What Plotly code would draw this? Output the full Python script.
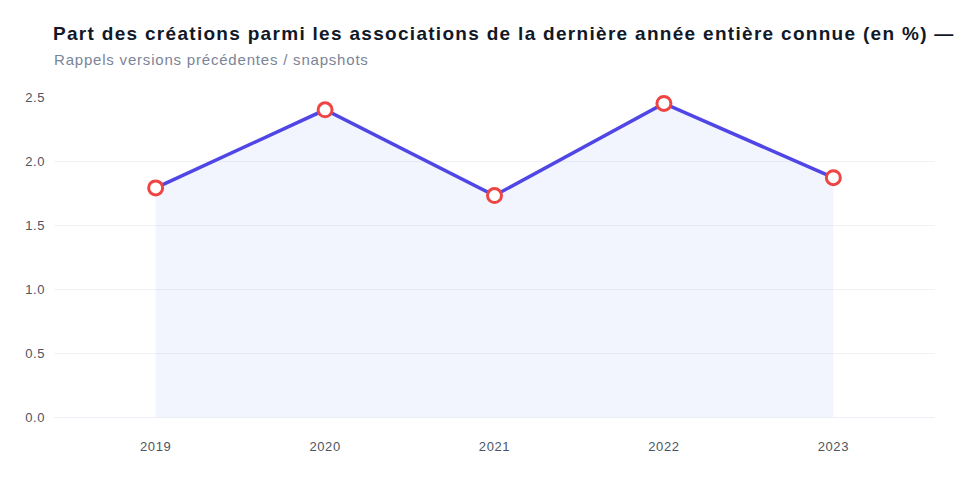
import plotly.graph_objects as go

years = ["2019", "2020", "2021", "2022", "2023"]
values = [1.79, 2.40, 1.73, 2.45, 1.87]
y_ticks = [0, 0.5, 1.0, 1.5, 2.0, 2.5]
y_tick_labels = ["0.0", "0.5", "1.0", "1.5", "2.0", "2.5"]

title_text = "Part des créations parmi les associations de la dernière année entière connue (en %) —"
subtitle_text = "Rappels versions précédentes / snapshots"

H = 480
T, B = 97, 63
plot_h = H - T - B

fig = go.Figure()
fig.add_trace(go.Scatter(
    x=years, y=values,
    mode="lines+markers",
    fill="tozeroy",
    fillcolor="rgba(59,100,246,0.065)",
    line=dict(color="#4f46e5", width=3.5),
    marker=dict(size=14, color="#ffffff", line=dict(color="#ef4444", width=3)),
    cliponaxis=False,
    hoverinfo="x+y",
))

fig.update_layout(
    width=960, height=H,
    margin=dict(l=54, r=25, t=T, b=B),
    paper_bgcolor="#ffffff",
    plot_bgcolor="#ffffff",
    showlegend=False,
    font=dict(family="Liberation Sans, Arial, sans-serif"),
    title=dict(
        text="<b>" + title_text + "</b>",
        x=53 / 960, xref="container", xanchor="left",
        y=1 - 33 / H, yref="container", yanchor="middle",
        font=dict(size=19, color="#111827", family="Liberation Sans, Arial, sans-serif"),
    ),
    annotations=[dict(
        text=subtitle_text,
        x=0, xref="paper", xanchor="left", xshift=14,
        y=(H - B - 60) / plot_h, yref="paper", yanchor="middle",
        showarrow=False,
        font=dict(size=15, color="#7b8498"),
    )],
)

fig.update_xaxes(
    type="category",
    range=[-0.6, 4.6],
    showgrid=False,
    zeroline=False,
    showline=False,
    tickfont=dict(size=13, color="#4b5563"),
    ticks="",
    ticklabelstandoff=20,
)
fig.update_yaxes(
    range=[0, 2.5],
    tickvals=y_ticks,
    ticktext=y_tick_labels,
    showgrid=True,
    gridcolor="#f0f2f8",
    gridwidth=1,
    zeroline=True,
    zerolinecolor="#eceff6",
    zerolinewidth=1,
    showline=False,
    tickfont=dict(size=13, color="#4b5563"),
    ticklabelstandoff=8,
)

post_js = """
var gd = document.getElementById('{plot_id}');
function spacing() {
  gd.querySelectorAll('.gtitle').forEach(function(t){ t.style.letterSpacing = '1.3px'; });
  gd.querySelectorAll('.annotation-text').forEach(function(t){ t.style.letterSpacing = '0.8px'; });
  gd.querySelectorAll('.xtick text, .ytick text').forEach(function(t){ t.style.letterSpacing = '0.6px'; });
}
spacing();
gd.on('plotly_afterplot', spacing);
"""

fig.write_html("out.html", post_script=post_js)
